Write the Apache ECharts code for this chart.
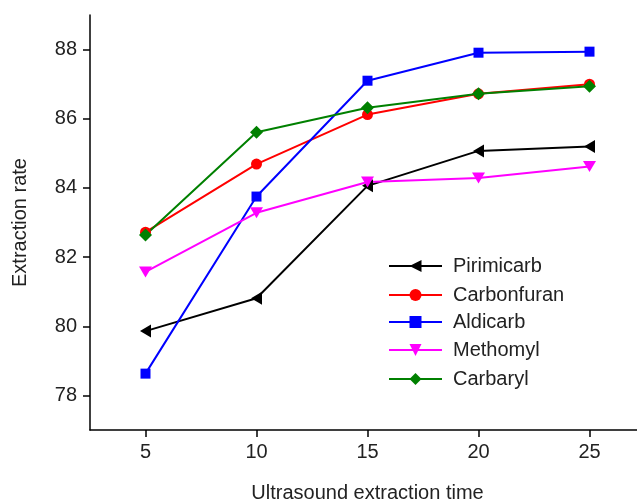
<!DOCTYPE html>
<html>
<head>
<meta charset="utf-8">
<script src="https://cdn.jsdelivr.net/npm/echarts@6/dist/echarts.min.js"></script>
<style>html,body{margin:0;padding:0;background:#fff}#c{width:637px;height:501px}</style>
</head>
<body>
<div id="c"></div>
<script>
const times = [5, 10, 15, 20, 25];
const xTicks = [5, 10, 15, 20, 25];
const yTicks = [78, 80, 82, 84, 86, 88];
const seriesNames = ['Pirimicarb', 'Carbonfuran', 'Aldicarb', 'Methomyl', 'Carbaryl'];
const pirimicarb = [79.86, 80.81, 84.06, 85.07, 85.2];
const carbonfuran = [82.72, 84.69, 86.12, 86.72, 87.0];
const aldicarb = [78.63, 83.75, 87.1, 87.91, 87.94];
const methomyl = [81.57, 83.28, 84.17, 84.29, 84.62];
const carbaryl = [82.64, 85.61, 86.32, 86.72, 86.94];

const values = [pirimicarb, carbonfuran, aldicarb, methomyl, carbaryl];
const colors = ['#000000', '#ff0000', '#0000ff', '#ff00ff', '#008000'];
const symbols = ['triangle', 'circle', 'rect', 'triangle', 'diamond'];
const rotates = [90, 0, 0, 180, 0];
const sizes = [[13, 11], 11, 10, [13, 11], 13];
const legendTops = [256, 285, 312, 340, 369];

const font = 'Liberation Sans, Arial, sans-serif';
const chart = echarts.init(document.getElementById('c'));
chart.setOption({
  animation: false,
  backgroundColor: '#fff',
  grid: { left: 90, top: 15, width: 555, height: 415, outerBoundsMode: 'none', containLabel: false },
  xAxis: {
    type: 'value', min: 2.5, max: 27.5,
    name: 'Ultrasound extraction time', nameLocation: 'middle', nameGap: 53,
    nameTextStyle: { color: '#222', fontSize: 20, fontFamily: font },
    axisLine: { lineStyle: { color: '#000', width: 1.5 } },
    axisTick: { customValues: xTicks, length: 7, lineStyle: { color: '#000', width: 1.5 } },
    axisLabel: { customValues: xTicks, color: '#222', fontSize: 20, fontFamily: font, margin: 12 },
    splitLine: { show: false }
  },
  yAxis: {
    type: 'value', min: 77, max: 89,
    name: 'Extraction rate', nameLocation: 'middle', nameGap: 60,
    nameTextStyle: { color: '#222', fontSize: 20, fontFamily: font },
    axisLine: { show: true, lineStyle: { color: '#000', width: 1.5 } },
    axisTick: { show: true, customValues: yTicks, length: 7, lineStyle: { color: '#000', width: 1.5 } },
    axisLabel: { customValues: yTicks, color: '#222', fontSize: 20, fontFamily: font, margin: 13 },
    splitLine: { show: false }
  },
  legend: seriesNames.map((n, i) => ({
    data: [n], left: 388, top: legendTops[i], padding: 0, itemWidth: 53, itemHeight: 15, itemGap: 0,
    textStyle: { color: '#222', fontSize: 20, fontFamily: font, padding: [0, 0, 0, 6] }
  })),
  series: seriesNames.map((n, i) => ({
    name: n, type: 'line',
    data: times.map((t, j) => [t, values[i][j]]),
    symbol: symbols[i], symbolSize: sizes[i], symbolRotate: rotates[i],
    lineStyle: { color: colors[i], width: 2 },
    itemStyle: { color: colors[i] },
    showAllSymbol: true
  }))
});
</script>
</body>
</html>
